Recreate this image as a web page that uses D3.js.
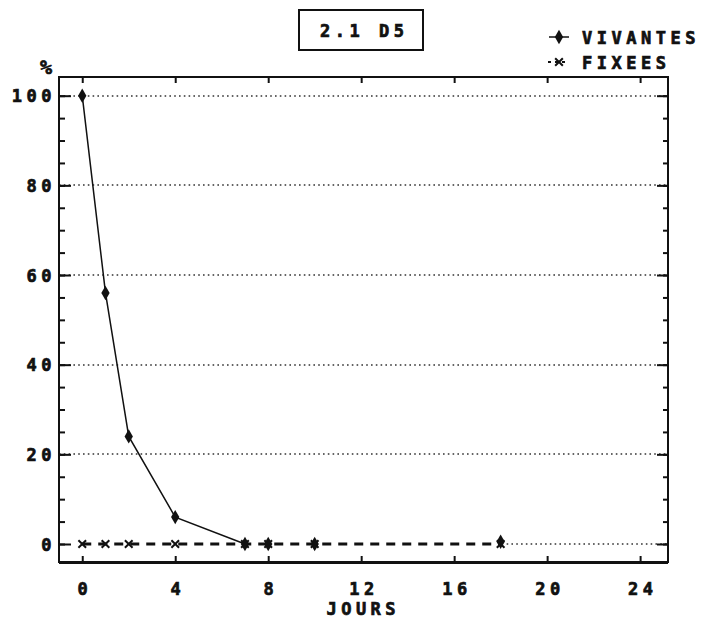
<!DOCTYPE html>
<html>
<head>
<meta charset="utf-8">
<script src="https://cdn.jsdelivr.net/npm/d3@7"></script>
<style>
  body { margin: 0; background: #fff; }
  text { font-family: "DejaVu Sans Mono", monospace; font-weight: bold; fill: #111; stroke: #111; stroke-width: 0.7px; }
</style>
</head>
<body>
<script>
// data
var jours = [0, 1, 2, 4, 7, 8, 10, 18];
var vivantes = [100, 56, 24, 6, 0, 0, 0, 0.5];
var fixees = [0, 0, 0, 0, 0, 0, 0, 0];
var xTicks = [0, 4, 8, 12, 16, 20, 24];
var yTicks = [0, 20, 40, 60, 80, 100];
var yMinor = d3.range(0, 101, 5);
var titre = "2.1 D5";
var legende = ["VIVANTES", "FIXEES"];

var W = 727, H = 619;
var ink = "#111";
var fs = "17px", ls = 4.5; // wide plotter lettering

var svg = d3.select("body").append("svg")
  .attr("width", W)
  .attr("height", H);

// scales - domain padded so the frame sits a bit outside the data
var x = d3.scaleLinear().domain([-1, 25.2]).range([59, 668]);
var y = d3.scaleLinear().domain([0, 100]).range([544, 95.7]);
var frameTop = 77, frameBottom = 562, left = x.range()[0], right = x.range()[1];

//dotted grid (the zero line is hidden under the dashed series up to its last point)
var lastJour = jours[jours.length - 1];
var grid = svg.append("g");
grid.selectAll("line")
  .data(yTicks)
  .enter()
  .append("line")
  .attr("x1", function(d){ return d === 0 ? x(lastJour) + 6 : left; })
  .attr("x2", right)
  .attr("y1", function(d){ return Math.round(y(d)); })
  .attr("y2", function(d){ return Math.round(y(d)); })
  .attr("stroke", "#333")
  .attr("stroke-width", 1.6)
  .attr("stroke-dasharray", "1.6,3.2");

//axes: ticks point inward like the plotter did
function cleanAxis(g){
  g.select(".domain").remove();
  g.selectAll(".tick line").attr("stroke", ink).attr("stroke-width", 2);
  g.selectAll("text").style("font-size", fs).style("letter-spacing", ls + "px").attr("fill", ink);
}

svg.append("g").attr("transform", "translate(" + left + ",0)")
  .call(d3.axisLeft(y).tickValues(yMinor).tickSize(-6).tickFormat(""))
  .call(cleanAxis);
svg.append("g").attr("transform", "translate(" + left + ",0)")
  .call(d3.axisLeft(y).tickValues(yTicks).tickSize(-12).tickPadding(3))
  .call(cleanAxis)
  .selectAll("text").attr("dx", "0").attr("dy", "0.36em");

svg.append("g").attr("transform", "translate(" + right + ",0)")
  .call(d3.axisRight(y).tickValues(yMinor).tickSize(-5).tickFormat(""))
  .call(cleanAxis);
svg.append("g").attr("transform", "translate(" + right + ",0)")
  .call(d3.axisRight(y).tickValues(yTicks).tickSize(-11).tickFormat(""))
  .call(cleanAxis);

svg.append("g").attr("transform", "translate(0," + frameBottom + ")")
  .call(d3.axisBottom(x).tickValues(xTicks).tickSize(-6).tickPadding(21))
  .call(cleanAxis)
  .selectAll("text").attr("dx", ls / 2);

svg.append("g").attr("transform", "translate(0," + frameTop + ")")
  .call(d3.axisTop(x).tickValues(xTicks).tickSize(-6).tickFormat(""))
  .call(cleanAxis);

//frame
svg.append("rect")
  .attr("x", left).attr("y", frameTop)
  .attr("width", right - left).attr("height", frameBottom - frameTop)
  .attr("fill", "none")
  .attr("stroke", ink)
  .attr("stroke-width", 2);
svg.append("line")
  .attr("x1", left).attr("x2", right)
  .attr("y1", frameBottom + 0.5).attr("y2", frameBottom + 0.5)
  .attr("stroke", ink).attr("stroke-width", 3);

//axis titles
svg.append("text")
  .attr("x", 46).attr("y", 74)
  .attr("text-anchor", "middle")
  .style("font-size", "20px")
  .text("%");
svg.append("text")
  .attr("x", 361 + ls / 2).attr("y", 615)
  .attr("text-anchor", "middle")
  .style("font-size", fs)
  .style("letter-spacing", ls + "px")
  .text("JOURS");

//title box
svg.append("rect")
  .attr("x", 299).attr("y", 10)
  .attr("width", 124).attr("height", 40)
  .attr("fill", "none")
  .attr("stroke", ink)
  .attr("stroke-width", 2);
svg.append("text")
  .attr("x", 362 + ls / 2).attr("y", 37)
  .attr("text-anchor", "middle")
  .style("font-size", fs)
  .style("letter-spacing", ls + "px")
  .text(titre);

//series
var pts = jours.map(function(j, i){ return {j: j, v: vivantes[i], f: fixees[i]}; });

var lineF = d3.line().x(function(d){ return x(d.j); }).y(function(d){ return y(d.f); });
var lineV = d3.line().x(function(d){ return x(d.j); }).y(function(d){ return y(d.v); });

svg.append("path")
  .datum(pts)
  .attr("d", lineF)
  .attr("fill", "none")
  .attr("stroke", ink)
  .attr("stroke-width", 3)
  .attr("stroke-dasharray", "9,7");

// solid line stops where the survivors first hit zero
var firstZero = vivantes.indexOf(0);
svg.append("path")
  .datum(pts.slice(0, firstZero + 1))
  .attr("d", lineV)
  .attr("fill", "none")
  .attr("stroke", ink)
  .attr("stroke-width", 1.5);

var cross = d3.symbol().type(d3.symbolX).size(40);
var diamond = d3.symbol().type(d3.symbolDiamond).size(60);

svg.selectAll(".fix")
  .data(pts)
  .enter()
  .append("path")
  .attr("class", "fix")
  .attr("d", cross)
  .attr("transform", function(d){ return "translate(" + x(d.j) + "," + y(d.f) + ")"; })
  .attr("fill", "none")
  .attr("stroke", ink)
  .attr("stroke-width", 2);

svg.selectAll(".viv")
  .data(pts)
  .enter()
  .append("path")
  .attr("class", "viv")
  .attr("d", diamond)
  .attr("transform", function(d){ return "translate(" + x(d.j) + "," + y(d.v) + ")"; })
  .attr("fill", ink);

//legend
var leg = svg.append("g");
leg.append("line")
  .attr("x1", 549).attr("x2", 569).attr("y1", 37).attr("y2", 37)
  .attr("stroke", ink).attr("stroke-width", 1.5);
leg.append("path")
  .attr("d", diamond)
  .attr("transform", "translate(559,37)")
  .attr("fill", ink);
leg.append("line")
  .attr("x1", 548).attr("x2", 569).attr("y1", 62).attr("y2", 62)
  .attr("stroke", ink).attr("stroke-width", 2)
  .attr("stroke-dasharray", "3,4");
leg.append("path")
  .attr("d", cross)
  .attr("transform", "translate(559,62)")
  .attr("fill", "none").attr("stroke", ink).attr("stroke-width", 2);
leg.selectAll(".legtxt")
  .data(legende)
  .enter()
  .append("text")
  .attr("x", 582)
  .attr("y", function(d, i){ return 44 + i * 25; })
  .style("font-size", fs)
  .style("letter-spacing", ls + "px")
  .text(function(d){ return d; });
</script>
</body>
</html>
